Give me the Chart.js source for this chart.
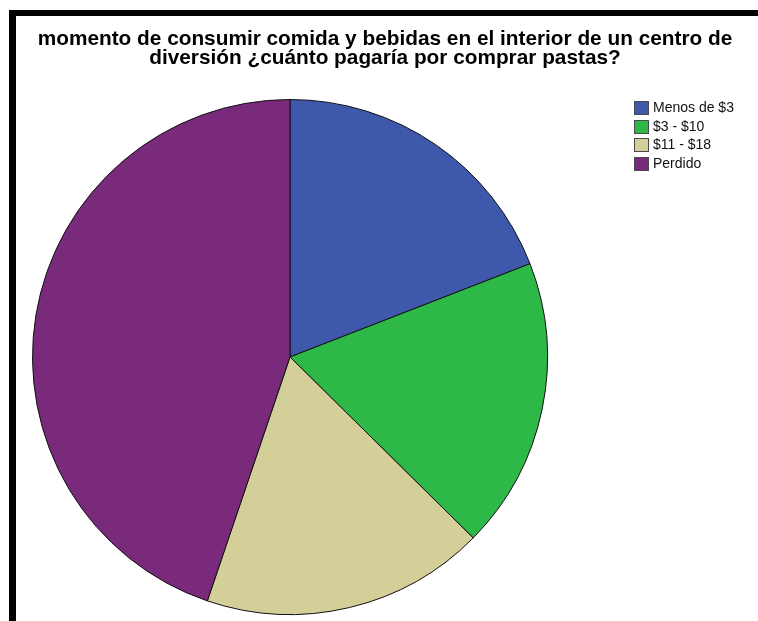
<!DOCTYPE html>
<html>
<head>
<meta charset="utf-8">
<script src="https://cdn.jsdelivr.net/npm/chart.js@4/dist/chart.umd.min.js"></script>
<style>
  html, body { margin: 0; padding: 0; background: #fff; }
  #wrap { position: relative; width: 758px; height: 621px; overflow: hidden; background: #fff; }
  #c { position: absolute; left: 0; top: 0; }
  .bar { position: absolute; background: #000; }
  #title {
    position: absolute; left: 16px; width: 738px; top: 28px;
    text-align: center; color: #000;
    font: bold 20.8px "Liberation Sans", Arial, sans-serif; line-height: 19px;
  }
</style>
</head>
<body>
<div id="wrap">
  <canvas id="c" width="758" height="621"></canvas>
  <div class="bar" style="left:9px;top:10px;width:749px;height:6px;"></div>
  <div class="bar" style="left:9px;top:10px;width:7px;height:611px;"></div>
  <div id="title"></div>
</div>
<script>
// Response categories and their share of answers (%)
const categories = ['Menos de $3', '$3 - $10', '$11 - $18', 'Perdido'];
const shares = [19.1, 18.3, 17.8, 44.8];
const titleLines = [
  'momento de consumir comida y bebidas en el interior de un centro de',
  'diversión ¿cuánto pagaría por comprar pastas?'
];

const sliceColors = ['#3E58AC', '#2EB848', '#D4CE99', '#7A2A7A'];

document.getElementById('title').innerHTML = titleLines.join('<br>');

// Legend box in the upper right, drawn from the chart's own data
const sideLegend = {
  id: 'sideLegend',
  afterDraw(chart) {
    const ctx = chart.ctx;
    const ds = chart.data.datasets[0];
    ctx.save();
    ctx.font = '14px "Liberation Sans", Arial, sans-serif';
    ctx.textBaseline = 'middle';
    ctx.textAlign = 'left';
    chart.data.labels.forEach((label, i) => {
      const y = Math.round(101 + i * 18.6);
      ctx.fillStyle = ds.backgroundColor[i];
      ctx.fillRect(634, y, 15, 14);
      ctx.strokeStyle = '#4a4a4a';
      ctx.lineWidth = 1;
      ctx.strokeRect(634.5, y + 0.5, 14, 13);
      ctx.fillStyle = '#111';
      ctx.fillText(label, 653, y + 7.5);
    });
    ctx.restore();
  }
};

new Chart(document.getElementById('c'), {
  type: 'pie',
  data: {
    labels: categories,
    datasets: [{
      data: shares,
      backgroundColor: sliceColors,
      borderColor: '#111',
      borderWidth: 1
    }]
  },
  options: {
    responsive: false,
    animation: false,
    layout: { padding: { left: 32, right: 210, top: 99, bottom: 6 } },
    plugins: {
      legend: { display: false },
      title: { display: false },
      tooltip: { enabled: false }
    }
  },
  plugins: [sideLegend]
});
</script>
</body>
</html>
